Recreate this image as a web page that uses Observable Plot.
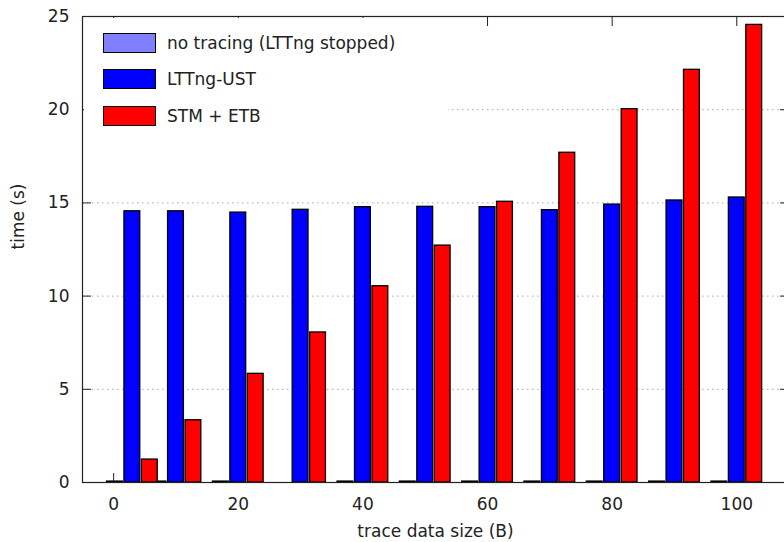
<!DOCTYPE html>
<html><head><meta charset="utf-8">
<script src="https://cdn.jsdelivr.net/npm/d3@7"></script>
<script src="https://cdn.jsdelivr.net/npm/@observablehq/plot@0.6"></script>
<style>
html,body{margin:0;padding:0;background:#fff;overflow:hidden;}
#wrap{position:relative;width:784px;height:542px;overflow:hidden;font-family:"DejaVu Sans",sans-serif;}
#wrap svg{max-width:none !important;display:block;}
#legend{position:absolute;left:84px;top:18px;width:364px;height:118px;background:#fff;}
.row{position:absolute;left:0;height:20px;display:flex;align-items:center;font-size:17px;color:#222;white-space:nowrap;}
.sw{width:53px;height:20px;border:1.5px solid #000;box-sizing:border-box;margin-left:19px;margin-right:11px;}
</style></head><body><div id="wrap"></div>
<script>
// ---- data ----
const sizes = [3, 10, 20, 30, 40, 50, 60, 70, 80, 90, 100];
const seriesNames = ["no tracing (LTTng stopped)", "LTTng-UST", "STM + ETB"];
const noTracing = [0.05, 0.05, 0.05, null, 0.05, 0.05, 0.05, 0.05, 0.05, 0.05, 0.05];
const lttng = [14.55, 14.55, 14.48, 14.63, 14.77, 14.79, 14.77, 14.61, 14.91, 15.13, 15.29];
const stm = [1.23, 3.34, 5.83, 8.05, 10.53, 12.71, 15.06, 17.69, 20.03, 22.14, 24.55];
const xTicks = [0, 20, 40, 60, 80, 100];
const yTicks = [0, 5, 10, 15, 20, 25];
const gridY = [5, 10, 15, 20];
const colors = ["#8080ff", "#0000ff", "#ff0000"];

const valueSets = [noTracing, lttng, stm];
const offsets = [-2.8, 0, 2.8];
const hw = 1.27;
const rows = valueSets.flatMap((vals, i) =>
  sizes.map((sz, j) => ({size: sz, value: vals[j], series: seriesNames[i], i}))
).filter(d => d.value != null);

const font = {fontFamily: "DejaVu Sans, sans-serif", fontSize: 17, fill: "#222"};

const chart = Plot.plot({
  width: 790, height: 542,
  marginLeft: 82, marginRight: 2, marginTop: 16, marginBottom: 60,
  style: {fontFamily: "DejaVu Sans, sans-serif", fontSize: "17px", color: "#222", background: "#fff", maxWidth: "none"},
  x: {type: "linear", domain: [-5, 108.3], axis: null},
  y: {domain: [0, 25], axis: null},
  color: {domain: seriesNames, range: colors},
  marks: [
    Plot.ruleY(gridY, {stroke: "#a8a8a8", strokeDasharray: "1.5,3.5", strokeWidth: 1}),
    Plot.axisX(xTicks, {anchor: "bottom", tickSize: -9, text: null, label: null, stroke: "#222"}),
    Plot.rect(rows, {
      x1: d => d.size + offsets[d.i] - hw,
      x2: d => d.size + offsets[d.i] + hw,
      y1: 0, y2: "value",
      fill: "series", stroke: "#000", strokeWidth: 1.3
    }),
    Plot.axisX(xTicks, {anchor: "top", tickSize: -9, text: null, label: null, stroke: "#222"}),
    Plot.axisY(yTicks, {anchor: "left", tickSize: -9, text: null, label: null, stroke: "#222"}),
    Plot.axisY(yTicks, {anchor: "right", tickSize: -9, text: null, label: null, stroke: "#222"}),
    Plot.axisY(yTicks, {anchor: "left", tickSize: 0, tickPadding: 13, label: null, fontSize: 17, fill: "#222"}),
    Plot.axisX(xTicks, {anchor: "bottom", tickSize: 0, tickPadding: 15, label: null, fontSize: 17, fill: "#222"}),
    Plot.text(["trace data size (B)"], {frameAnchor: "bottom", dy: 54, ...font}),
    Plot.text(["time (s)"], {frameAnchor: "left", dx: -64, rotate: -90, ...font}),
    Plot.frame({stroke: "#222", strokeWidth: 1.2})
  ]
});

const wrap = document.getElementById("wrap");
wrap.appendChild(chart);
const legend = document.createElement("div");
legend.id = "legend";
const rowTops = [15, 51, 88];
seriesNames.forEach((name, i) => {
  const r = document.createElement("div");
  r.className = "row";
  r.style.top = rowTops[i] + "px";
  const sw = document.createElement("div");
  sw.className = "sw";
  sw.style.background = colors[i];
  const t = document.createElement("span");
  t.textContent = name;
  r.appendChild(sw); r.appendChild(t);
  legend.appendChild(r);
});
wrap.appendChild(legend);
</script>
</body></html>
